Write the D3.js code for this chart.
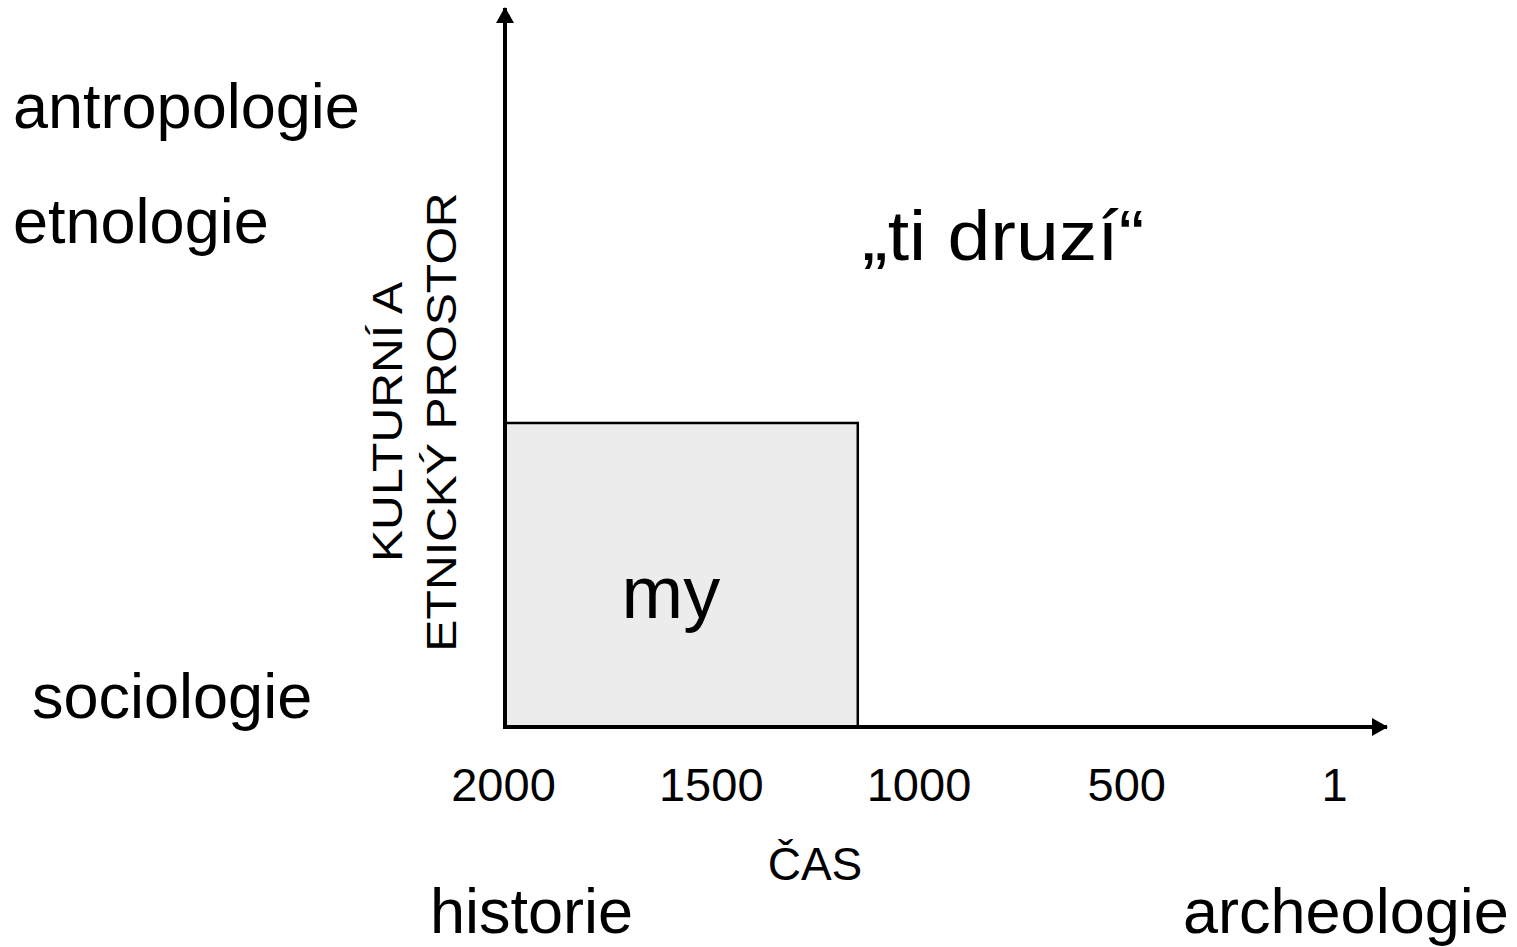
<!DOCTYPE html>
<html>
<head>
<meta charset="utf-8">
<script src="https://cdn.jsdelivr.net/npm/d3@7"></script>
<style>
  body { margin: 0; background: #fff; }
  svg text { font-family: "Liberation Sans", Arial, sans-serif; fill: #000; }
</style>
</head>
<body>
<div class="chart"></div>
<script>
// data
const timeTicks = [2000, 1500, 1000, 500, 1];
const timeTitle = "ČAS";
const spaceTitle = ["KULTURNÍ A", "ETNICKÝ PROSTOR"];
const leftLabels = ["antropologie", "etnologie", "sociologie"];
const leftLevels = [0.835, 0.675, 0.012];       // position along the space axis
const bottomLabels = ["historie", "archeologie"];
const myBox = { from: 2000, to: 1150, space: 0.424, label: "my" };
const others = { label: "„ti druzí“" };

const W = 1517, H = 947;
const origin = { x: 505, y: 727 };
const svg = d3.select(".chart").append("svg")
    .attr("width", W)
    .attr("height", H);

// scales
const xTick = d3.scalePoint()
    .domain(timeTicks)
    .range([503, 1334]);
const xYear = d3.scaleLinear()
    .domain([2000, 1])
    .range([504, 1336]);
const yScale = d3.scaleLinear()
    .domain([0, 1])
    .range([origin.y, 10]);

// arrow markers
const defs = svg.append("defs");
defs.append("marker")
    .attr("id", "arrow")
    .attr("viewBox", "0 0 16 18")
    .attr("refX", 15)
    .attr("refY", 9)
    .attr("markerWidth", 16)
    .attr("markerHeight", 18)
    .attr("markerUnits", "userSpaceOnUse")
    .attr("orient", "auto")
    .append("path")
    .attr("d", "M0,0L16,9L0,18Z")
    .attr("fill", "#000");

// "my" box
svg.append("rect")
    .attr("x", xYear(myBox.from) + 1)
    .attr("y", yScale(myBox.space))
    .attr("width", xYear(myBox.to) - xYear(myBox.from) - 1)
    .attr("height", yScale(0) - yScale(myBox.space))
    .attr("fill", "#ececec")
    .attr("stroke", "#000")
    .attr("stroke-width", 2.5);
svg.append("text")
    .attr("x", (xYear(myBox.from) + xYear(myBox.to)) / 2 - 10)
    .attr("y", 618)
    .attr("text-anchor", "middle")
    .style("font-size", "74px")
    .text(myBox.label);

// axes lines with arrows
svg.append("line")
    .attr("x1", origin.x).attr("y1", origin.y + 2)
    .attr("x2", origin.x).attr("y2", 8)
    .attr("stroke", "#000").attr("stroke-width", 4)
    .attr("marker-end", "url(#arrow)");
svg.append("line")
    .attr("x1", origin.x - 2).attr("y1", origin.y)
    .attr("x2", 1387).attr("y2", origin.y)
    .attr("stroke", "#000").attr("stroke-width", 4)
    .attr("marker-end", "url(#arrow)");

// time tick labels
const xAxis = d3.axisBottom(xTick).tickSize(0);
const gx = svg.append("g")
    .attr("class", "axis x-axis")
    .attr("transform", `translate(0, ${origin.y})`)
    .call(xAxis);
gx.select(".domain").remove();
gx.selectAll("text")
    .attr("dy", null)
    .attr("y", 74)
    .attr("fill", "#000")
    .style("font-family", "'Liberation Sans', Arial, sans-serif")
    .style("font-size", "47px");

// axis titles
svg.append("text")
    .attr("x", 815)
    .attr("y", 880)
    .attr("text-anchor", "middle")
    .style("font-size", "46px")
    .text(timeTitle);
svg.append("g")
    .attr("transform", "translate(402, 422) rotate(-90) scale(1.12, 1)")
    .selectAll("text")
    .data(spaceTitle)
    .join("text")
    .attr("x", 0)
    .attr("y", (d, i) => i * 54)
    .attr("text-anchor", "middle")
    .style("font-size", "43px")
    .text(d => d);

// discipline labels
svg.selectAll(".left-label")
    .data(leftLabels)
    .join("text")
    .attr("class", "left-label")
    .attr("x", (d, i) => i == 2 ? 32 : 13)
    .attr("y", (d, i) => yScale(leftLevels[i]))
    .style("font-size", "63px")
    .text(d => d);
svg.selectAll(".bottom-label")
    .data(bottomLabels)
    .join("text")
    .attr("class", "bottom-label")
    .attr("x", (d, i) => i == 0 ? 430 : 1183)
    .attr("y", 933)
    .style("font-size", "63px")
    .text(d => d);

// "ti druzí"
svg.append("text")
    .attr("transform", "translate(862, 260) scale(1.1, 1)")
    .style("font-size", "70px")
    .text(others.label);
</script>
</body>
</html>
